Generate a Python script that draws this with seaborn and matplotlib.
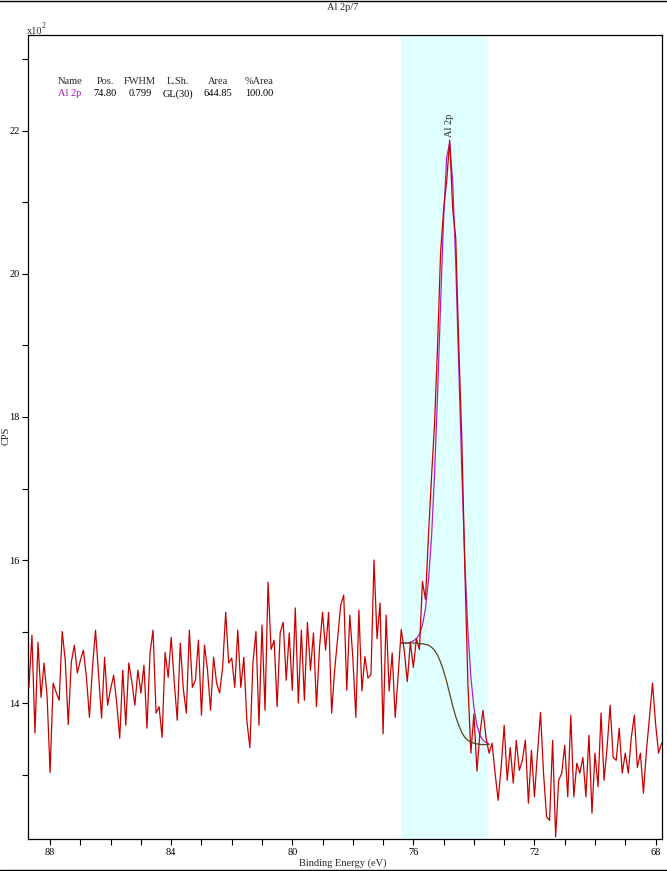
import numpy as np
import pandas as pd
import matplotlib
matplotlib.use("Agg")
import matplotlib.pyplot as plt
import seaborn as sns
from matplotlib.lines import Line2D
from matplotlib.ticker import MultipleLocator

# ---------------- data (CPS in units of 10^2) ----------------
energy_start = 88.7
energy_step = 0.1
cps = [
    14.22, 14.95, 13.58, 14.85, 14.08, 14.56, 14.10, 13.03, 14.28, 14.15,
    14.04, 15.00, 14.60, 13.70, 14.57, 14.81, 14.42, 14.60, 14.74, 14.36,
    13.80, 14.50, 15.02, 14.40, 13.79, 14.64, 13.97, 14.20, 14.39, 14.00,
    13.51, 14.46, 13.69, 14.56, 14.30, 13.97, 14.46, 14.14, 14.53, 13.65,
    14.70, 15.02, 13.86, 13.95, 13.52, 14.71, 14.36, 14.92, 14.30, 13.76,
    14.84, 14.20, 13.86, 15.02, 14.22, 14.32, 14.88, 13.83, 14.81, 14.46,
    13.90, 14.64, 14.28, 14.14, 14.50, 15.27, 14.56, 14.63, 14.22, 15.02,
    14.22, 14.64, 13.75, 13.38, 14.56, 15.00, 13.69, 15.09, 13.90, 15.69,
    14.75, 14.88, 13.95, 14.98, 15.13, 14.32, 14.98, 14.18, 15.33, 14.00,
    15.02, 14.04, 15.13, 14.46, 14.98, 13.95, 14.78, 15.27, 14.74, 15.27,
    13.86, 14.46, 14.92, 15.37, 15.51, 14.18, 15.23, 14.64, 13.80, 15.30,
    14.17, 14.65, 14.35, 14.40, 16.00, 14.90, 15.40, 13.57, 15.23, 14.17,
    14.70, 13.80, 14.40, 15.03, 14.73, 14.30, 14.85, 14.50, 14.90, 14.75,
    15.70, 15.45, 16.35, 17.16, 17.90, 19.00, 20.30, 20.90, 21.30, 21.87,
    20.90, 20.50, 19.00, 17.70, 15.90, 14.30, 13.30, 13.85, 13.05, 13.58,
    13.90, 13.52, 13.30, 13.44, 13.02, 12.64, 13.10, 13.69, 12.92, 13.38,
    12.88, 13.48, 13.06, 13.20, 13.48, 12.60, 13.34, 12.69, 13.30, 13.87,
    13.02, 12.41, 12.36, 13.48, 12.13, 12.92, 13.02, 13.41, 12.69, 13.83,
    12.69, 13.16, 13.02, 13.24, 12.69, 13.55, 12.46, 13.30, 12.83, 13.86,
    12.92, 13.38, 13.97, 13.24, 13.20, 13.65, 13.02, 13.30, 13.02, 13.52,
    13.83, 13.10, 13.30, 12.74, 13.34, 13.80, 14.28, 13.72, 13.30, 13.44,
]

# fit region and model curves
region = [76.40, 73.55]
fit_start = 76.4
envelope = [
    14.84, 14.84, 14.84, 14.85, 14.87, 14.90, 14.96, 15.09, 15.32, 15.72,
    16.32, 17.20, 18.32, 19.58, 20.79, 21.63, 21.83, 21.29, 20.15, 18.70,
    17.24, 15.98, 15.02, 14.36, 13.94, 13.69, 13.55, 13.48, 13.45, 13.43,
]
background = [
    14.84, 14.84, 14.84, 14.84, 14.84, 14.84, 14.83, 14.83, 14.82, 14.81,
    14.78, 14.74, 14.67, 14.57, 14.45, 14.30, 14.13, 13.96, 13.81, 13.69,
    13.59, 13.52, 13.48, 13.45, 13.44, 13.43, 13.42, 13.42, 13.42, 13.42,
]

x_ticks = [88, 84, 80, 76, 72, 68]
y_ticks = [14, 16, 18, 20, 22]
table_header = ["Name", "Pos.", "FWHM", "L.Sh.", "Area", "%Area"]
table_row = ["Al 2p", "74.80", "0.799", "GL(30)", "644.85", "100.00"]
peak_label = "Al 2p"
peak_pos = 74.80

# ---------------- frames ----------------
spec = pd.DataFrame({
    "energy": np.round(energy_start - energy_step * np.arange(len(cps)), 2),
    "cps": cps,
})
fit = pd.DataFrame({
    "energy": np.round(fit_start - energy_step * np.arange(len(envelope)), 2),
    "envelope": envelope,
    "background": background,
})

# ---------------- style ----------------
sns.set_theme(style="ticks")
plt.rcParams["font.family"] = ["Liberation Serif", "DejaVu Serif"]
plt.rcParams["axes.linewidth"] = 0.9

W, H = 667, 871
fig = plt.figure(figsize=(W / 100, H / 100), dpi=100)
fig.patch.set_facecolor("white")
ax = fig.add_axes([27.7 / W, 1 - 839 / H, (662.5 - 27.7) / W, (839 - 35) / H])
ax.set_facecolor("white")

ax.axvspan(region[0], region[1], color="#e0ffff", lw=0, zorder=0)

sns.lineplot(data=fit, x="energy", y="envelope", color="#b020c8", lw=0.9,
             estimator=None, sort=False, ax=ax, zorder=2)
sns.lineplot(data=spec, x="energy", y="cps", color="#c80000", lw=0.9,
             estimator=None, sort=False, ax=ax, zorder=3)
sns.lineplot(data=fit, x="energy", y="background", color="#5a4418", lw=0.9,
             estimator=None, sort=False, ax=ax, zorder=4)

ax.set_xlim(88.74, 67.77)
ax.set_ylim(12.1, 23.34)
ax.set_xticks(x_ticks)
ax.set_xticklabels([str(t) for t in x_ticks])
ax.set_yticks(y_ticks)
ax.set_yticklabels([str(t) for t in y_ticks])
ax.xaxis.set_minor_locator(MultipleLocator(1))
ax.yaxis.set_minor_locator(MultipleLocator(1))
ax.tick_params(which="both", direction="out", length=4.5, width=0.8,
               colors="black", labelsize=7.5, pad=2)
ax.tick_params(axis="y", pad=1.5)
ax.set_xlabel("")
ax.set_ylabel("")
for s in ax.spines.values():
    s.set_color("black")
    s.set_linewidth(0.9)

# ---------------- texts ----------------
fs = 7.5
fig.text(343 / W, 1 - 7 / H, "Al 2p/7", ha="center", va="center", fontsize=fs)
fig.text(343 / W, 1 - 863 / H, "Binding Energy (eV)", ha="center",
         va="center", fontsize=fs)
fig.text(6 / W, 1 - 436 / H, "CPS", rotation=90, ha="center", va="center",
         fontsize=fs)
fig.text(27 / W, 1 - 31 / H, "x10", ha="left", va="center", fontsize=fs)
fig.text(41.5 / W, 1 - 26 / H, "2", ha="left", va="center", fontsize=5.5)

col_x = [70, 105, 140, 178, 218, 259]
for cx, h, r in zip(col_x, table_header, table_row):
    fig.text(cx / W, 1 - 82 / H, h, ha="center", va="center", fontsize=fs)
    fig.text(cx / W, 1 - 94 / H, r, ha="center", va="center", fontsize=fs,
             color="#a020b0" if r == table_row[0] else "black")

ax.text(peak_pos, 22.08, peak_label, rotation=90, ha="center", va="center",
        fontsize=fs)

# outer top / bottom rules
fig.add_artist(Line2D([0, 1], [1 - 0.8 / H, 1 - 0.8 / H], color="black",
                      lw=1.0, transform=fig.transFigure))
fig.add_artist(Line2D([0, 1], [1 - 869.5 / H, 1 - 869.5 / H], color="black",
                      lw=1.0, transform=fig.transFigure))

fig.savefig("out.png", dpi=100, facecolor="white")
